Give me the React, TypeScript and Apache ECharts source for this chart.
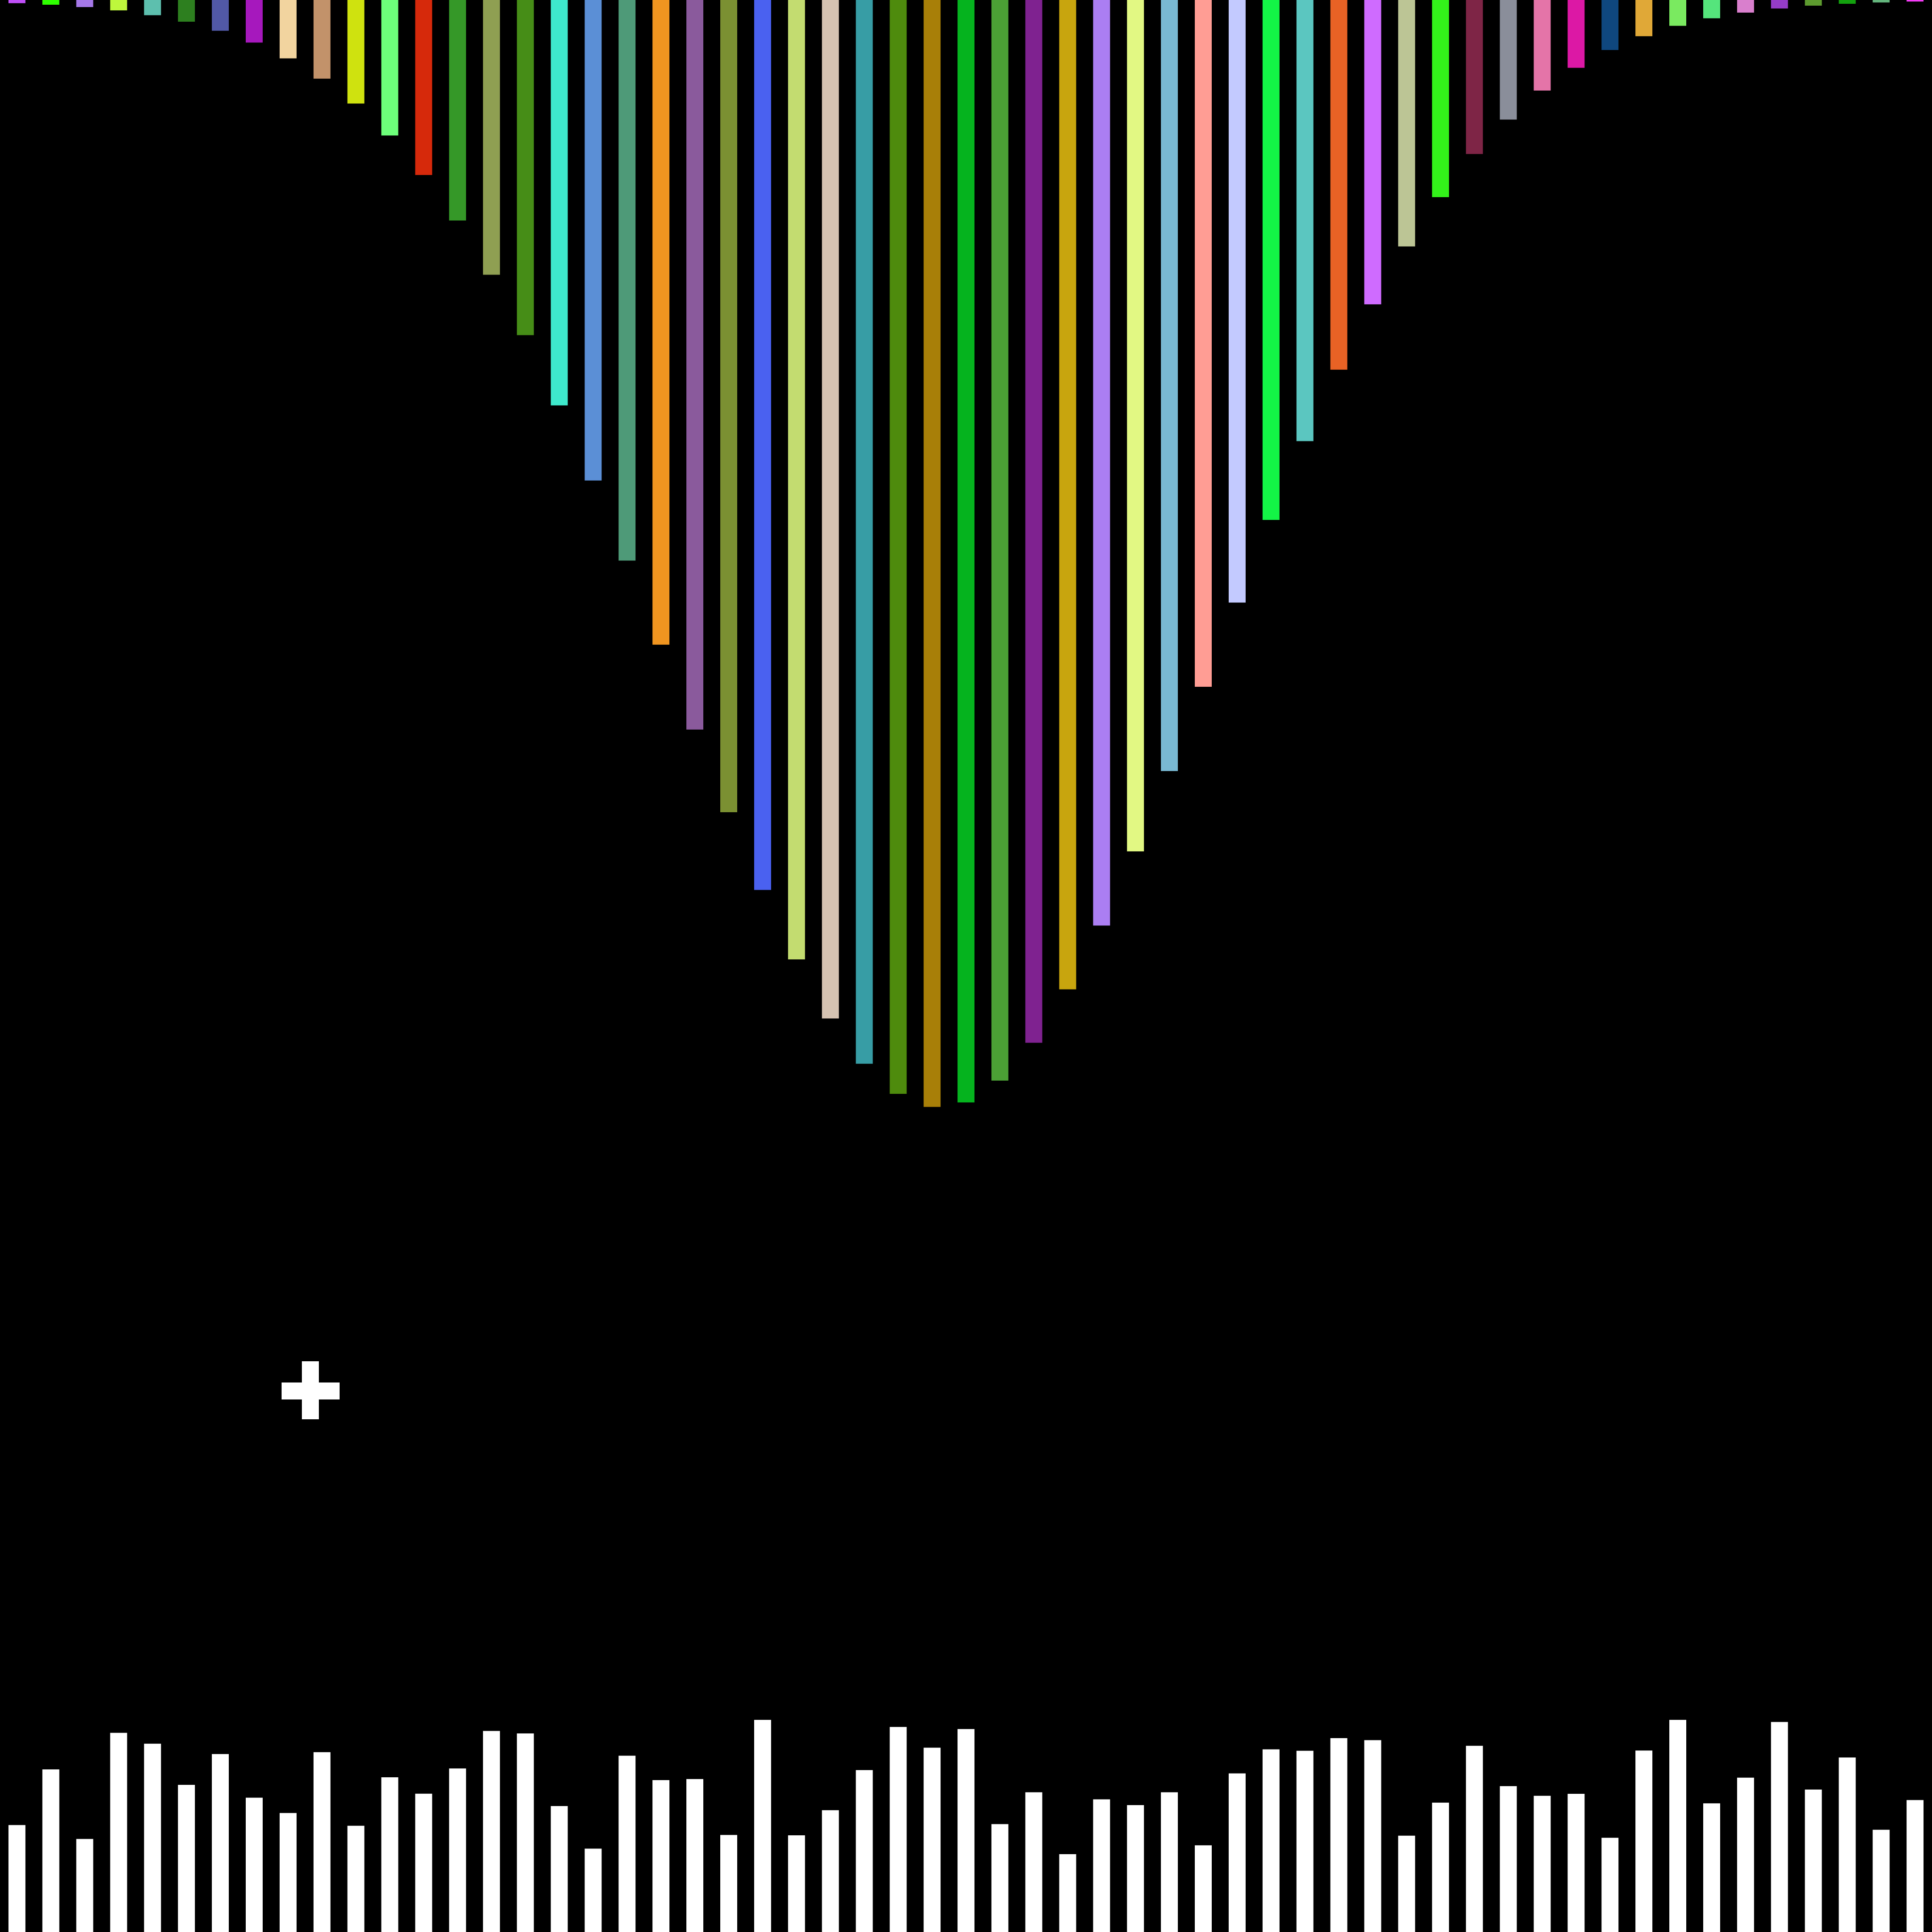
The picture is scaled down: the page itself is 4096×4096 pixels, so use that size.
import React, { useEffect, useRef } from "react";
import * as echarts from "echarts";

const categories: string[] = [
  "1","2","3","4","5","6","7","8","9","10","11","12","13","14","15","16","17","18","19","20",
  "21","22","23","24","25","26","27","28","29","30","31","32","33","34","35","36","37","38","39","40",
  "41","42","43","44","45","46","47","48","49","50","51","52","53","54","55","56","57",
];

// Upper (hanging) bars, length in px-units
const waveValues: number[] = [
  6.7, 10, 15, 22, 32.3, 46, 65.3, 90.3, 123.7, 166.7,
  219.4, 287.3, 370.9, 467.6, 582.5, 710.5, 859.4, 1018.8, 1188.5, 1366.8,
  1546.8, 1722, 1886.7, 2034, 2159.3, 2255.3, 2319, 2346.7, 2337.3, 2291,
  2210.7, 2097.6, 1962.2, 1805, 1634.7, 1456, 1277.4, 1102.3, 935.2, 783.7,
  645.2, 522.4, 417.9, 326.5, 253.4, 192, 143.7, 106, 76.7, 54.7,
  38.7, 26.7, 18, 12, 8, 5.3, 3.3,
];

const waveColors: string[] = [
  "#bf4ff7", "#2eff00", "#a578e8", "#bef73c", "#5dbfae", "#2d7f1f", "#5158a6", "#a618bd", "#f2d49f", "#c2926a",
  "#cfe20f", "#6dff7a", "#d6290b", "#359828", "#8f9f52", "#468d17", "#3ee9cc", "#5b8fd6", "#4e9a78", "#f09520",
  "#8a5a9c", "#7b9032", "#4a61f0", "#c3dc70", "#d5c3b2", "#379da5", "#4e8b0d", "#a87f08", "#05b31e", "#4ba035",
  "#7f2290", "#c8a50e", "#ab7ef2", "#e2f883", "#79b9d3", "#ff9d94", "#c3caff", "#13f446", "#5bc6c0", "#e86225",
  "#cf6bff", "#bcc595", "#33f21a", "#7e2546", "#8a8e9a", "#e474a8", "#dc18a5", "#0f477e", "#e0a837", "#7aea60",
  "#55e57c", "#d97fcd", "#943cc6", "#5d9b2f", "#13a10e", "#63b47c", "#f43cf6",
];

// Lower white bars, height in px-units
const levelValues: number[] = [
  226.7, 344.7, 197.3, 422.3, 399.3, 312, 377.3, 284.7, 252.3, 381.3,
  225.3, 328, 293.3, 346.7, 426.3, 421, 267, 176.7, 373.7, 322,
  324.3, 205.7, 449.7, 205, 258.3, 343.3, 434.7, 390.7, 430.3, 228.7,
  296.3, 165, 281.3, 269, 296.3, 183.7, 336.3, 387.3, 384.3, 411,
  406.7, 204.3, 274.3, 394.7, 309.3, 288.7, 293, 199.7, 384.7, 449.7,
  272.7, 327.3, 445.3, 302, 370, 216.7, 279.7,
];

export default function App() {
  const ref = useRef<HTMLDivElement>(null);
  useEffect(() => {
    document.body.style.margin = "0";
    document.body.style.background = "#000";
    const chart = echarts.init(ref.current!, null, { renderer: "svg" });
    chart.setOption({
      animation: false,
      backgroundColor: "#000000",
      grid: [
        { left: 0, right: 0, top: 0, height: 2400 },
        { left: 0, right: 0, bottom: 0, height: 600 },
      ],
      xAxis: [
        { type: "category", data: categories, gridIndex: 0, show: false },
        { type: "category", data: categories, gridIndex: 1, show: false },
      ],
      yAxis: [
        { type: "value", gridIndex: 0, min: 0, max: 2400, inverse: true, show: false },
        { type: "value", gridIndex: 1, min: 0, max: 600, show: false },
      ],
      series: [
        {
          type: "bar",
          xAxisIndex: 0,
          yAxisIndex: 0,
          barWidth: "50%",
          data: waveValues.map((v, i) => ({ value: v, itemStyle: { color: waveColors[i] } })),
        },
        {
          type: "bar",
          xAxisIndex: 1,
          yAxisIndex: 1,
          barWidth: "50%",
          itemStyle: { color: "#ffffff" },
          data: levelValues,
        },
      ],
      graphic: [
        { type: "rect", shape: { x: 640, y: 2886, width: 36, height: 123 }, style: { fill: "#ffffff" } },
        { type: "rect", shape: { x: 597, y: 2931, width: 123, height: 36 }, style: { fill: "#ffffff" } },
      ],
    });
    return () => chart.dispose();
  }, []);
  return (
    <div
      ref={ref}
      style={{ position: "absolute", left: 0, top: 0, width: 4096, height: 4096, background: "#000" }}
    />
  );
}
